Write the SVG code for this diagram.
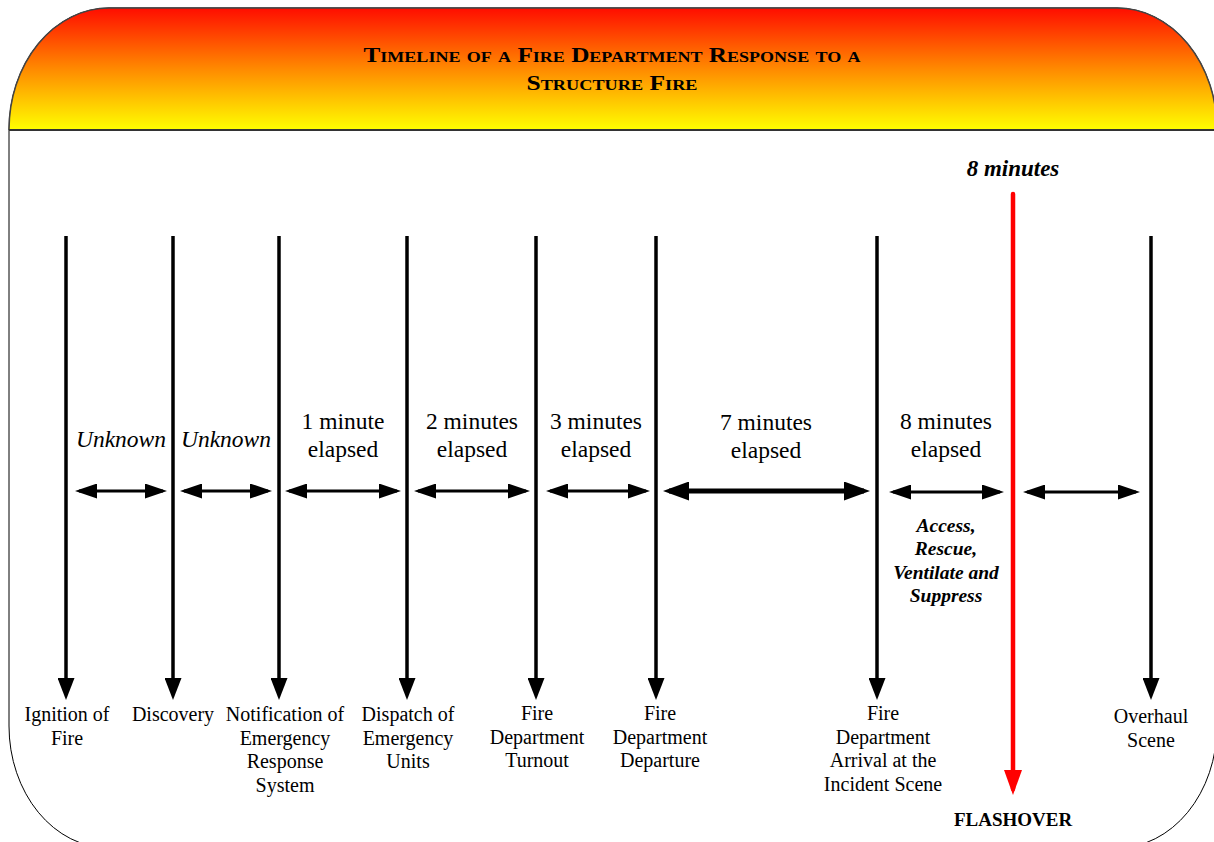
<svg xmlns="http://www.w3.org/2000/svg" width="1214" height="842" viewBox="0 0 1214 842">
<defs>
<linearGradient id="fire" x1="0" y1="8" x2="0" y2="130" gradientUnits="userSpaceOnUse">
<stop offset="0" stop-color="#ff0d00"/>
<stop offset="0.5" stop-color="#ff8a00"/>
<stop offset="1" stop-color="#ffff00"/>
</linearGradient>
<clipPath id="hdr"><rect x="0" y="0" width="1214" height="130"/></clipPath>
<marker id="ah" markerUnits="userSpaceOnUse" markerWidth="22" markerHeight="15" refX="18" refY="7.5" orient="auto-start-reverse" viewBox="0 0 22 15">
<path d="M0,0 L22,7.5 L0,15 Z" fill="#000"/>
</marker>
<marker id="ahb" markerUnits="userSpaceOnUse" markerWidth="26" markerHeight="19" refX="20" refY="9.5" orient="auto-start-reverse" viewBox="0 0 26 19">
<path d="M0,0 L26,9.5 L0,19 Z" fill="#000"/>
</marker>
<marker id="av" markerUnits="userSpaceOnUse" markerWidth="22" markerHeight="17" refX="16" refY="8.5" orient="auto" viewBox="0 0 22 17">
<path d="M0,0 L22,8.5 L0,17 Z" fill="#000"/>
</marker>
<marker id="avr" markerUnits="userSpaceOnUse" markerWidth="25" markerHeight="18" refX="19" refY="9" orient="auto" viewBox="0 0 25 18">
<path d="M0,0 L25,9 L0,18 Z" fill="#ff0000"/>
</marker>
<style>
.t{font-family:"Liberation Serif","Times New Roman",serif;fill:#000;text-anchor:middle}
.lbl{font-size:20px}
.mid{font-size:23.5px}
.it{font-style:italic}
.bi{font-style:italic;font-weight:bold}
.vl{stroke:#000;stroke-width:3.5;fill:none;marker-end:url(#av)}
.hl{stroke:#000;stroke-width:3;fill:none;marker-start:url(#ah);marker-end:url(#ah)}
</style>
</defs>

<g id="frame">
<rect x="9" y="8" width="1208" height="840" rx="100" ry="122" fill="#fff" stroke="#000" stroke-width="1"/>
<rect x="9" y="8" width="1208" height="840" rx="100" ry="122" fill="url(#fire)" stroke="#444" stroke-width="1.5" clip-path="url(#hdr)"/>
<line x1="9" y1="130" x2="1214" y2="130" stroke="#333" stroke-width="2"/>
</g>

<g id="title" class="t" style="font-weight:bold;font-variant:small-caps;font-size:21px">
<text x="612" y="62" textLength="497" lengthAdjust="spacingAndGlyphs">Timeline of a Fire Department Response to a</text>
<text x="612" y="90" textLength="171" lengthAdjust="spacingAndGlyphs">Structure Fire</text>
</g>

<g id="connectors">
<line class="vl" x1="66" y1="236" x2="66" y2="694"/>
<line class="vl" x1="173" y1="236" x2="173" y2="694"/>
<line class="vl" x1="279" y1="236" x2="279" y2="694"/>
<line class="vl" x1="407" y1="236" x2="407" y2="694"/>
<line class="vl" x1="536" y1="236" x2="536" y2="694"/>
<line class="vl" x1="656" y1="236" x2="656" y2="694"/>
<line class="vl" x1="877" y1="236" x2="877" y2="694"/>
<line class="vl" x1="1151" y1="236" x2="1151" y2="694"/>
<line x1="1013" y1="194" x2="1013" y2="789" stroke="#ff0000" stroke-width="4.5" stroke-linecap="round" marker-end="url(#avr)"/>

<line class="hl" x1="79" y1="491" x2="163" y2="491"/>
<line class="hl" x1="184" y1="491" x2="268" y2="491"/>
<line class="hl" x1="289" y1="491" x2="397" y2="491"/>
<line class="hl" x1="418" y1="491" x2="526" y2="491"/>
<line class="hl" x1="550" y1="491" x2="646" y2="491"/>
<line x1="669" y1="491" x2="864" y2="491" stroke="#000" stroke-width="5" marker-start="url(#ahb)" marker-end="url(#ahb)"/>
<line class="hl" x1="893" y1="492" x2="1000" y2="492"/>
<line class="hl" x1="1027" y1="492" x2="1136" y2="492"/>
</g>

<g id="intervals" class="t mid">
<text class="it" x="121" y="447">Unknown</text>
<text class="it" x="226" y="447">Unknown</text>
<text x="343" y="429">1 minute</text><text x="343" y="457">elapsed</text>
<text x="472" y="429">2 minutes</text><text x="472" y="457">elapsed</text>
<text x="596" y="429">3 minutes</text><text x="596" y="457">elapsed</text>
<text x="766" y="430">7 minutes</text><text x="766" y="458">elapsed</text>
<text x="946" y="429">8 minutes</text><text x="946" y="457">elapsed</text>
</g>

<g id="tasks" class="t bi" style="font-size:19.5px">
<text x="946" y="532">Access,</text>
<text x="946" y="555">Rescue,</text>
<text x="946" y="579">Ventilate and</text>
<text x="946" y="602">Suppress</text>
</g>

<g id="flashover-time" class="t bi" style="font-size:23px">
<text x="1013" y="176">8 minutes</text>
</g>

<g id="n-ignition" class="t lbl"><text x="67" y="721">Ignition of</text><text x="67" y="745">Fire</text></g>
<g id="n-discovery" class="t lbl"><text x="173" y="721">Discovery</text></g>
<g id="n-notification" class="t lbl"><text x="285" y="721">Notification of</text><text x="285" y="745">Emergency</text><text x="285" y="768">Response</text><text x="285" y="792">System</text></g>
<g id="n-dispatch" class="t lbl"><text x="408" y="721">Dispatch of</text><text x="408" y="745">Emergency</text><text x="408" y="768">Units</text></g>
<g id="n-turnout" class="t lbl"><text x="537" y="720">Fire</text><text x="537" y="744">Department</text><text x="537" y="767">Turnout</text></g>
<g id="n-departure" class="t lbl"><text x="660" y="720">Fire</text><text x="660" y="744">Department</text><text x="660" y="767">Departure</text></g>
<g id="n-arrival" class="t lbl"><text x="883" y="720">Fire</text><text x="883" y="744">Department</text><text x="883" y="767">Arrival at the</text><text x="883" y="791">Incident Scene</text></g>
<g id="n-overhaul" class="t lbl"><text x="1151" y="723">Overhaul</text><text x="1151" y="747">Scene</text></g>
<g id="n-flashover" class="t" style="font-weight:bold;font-size:19px"><text x="1013" y="826">FLASHOVER</text></g>
</svg>
